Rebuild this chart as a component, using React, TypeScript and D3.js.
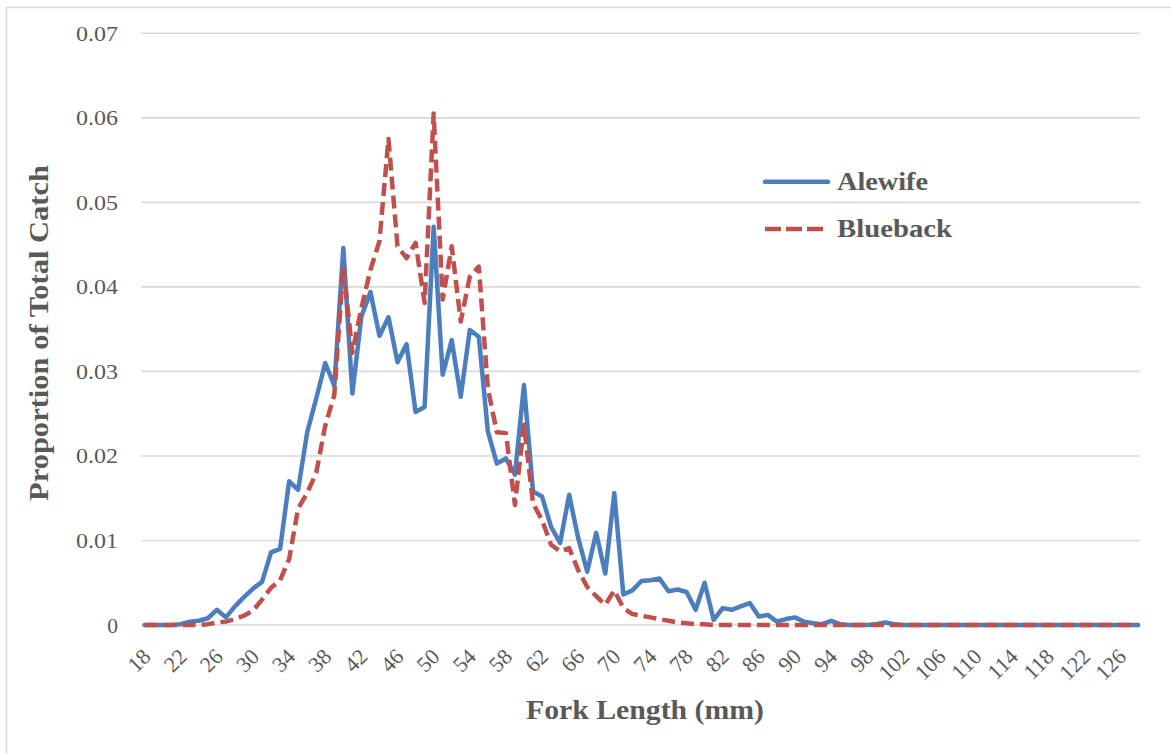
import React from "react";
import * as d3 from "d3";

const forkLengths: number[] = d3.range(18, 129);

const alewife: number[] = [
  0, 0, 0, 0, 0.0001, 0.0004, 0.0005, 0.0008, 0.0018, 0.0009,
  0.0022, 0.0033, 0.0043, 0.0051, 0.0086, 0.009, 0.017, 0.016, 0.0228, 0.0268,
  0.031, 0.0283, 0.0446, 0.0274, 0.0365, 0.0394, 0.0342, 0.0364, 0.0311, 0.0332,
  0.0252, 0.0258, 0.0471, 0.0296, 0.0337, 0.027, 0.0349, 0.0341, 0.0229, 0.0191,
  0.0197, 0.0178, 0.0284, 0.0158, 0.0152, 0.0116, 0.0097, 0.0154, 0.0103, 0.0063,
  0.0109, 0.0061, 0.0156, 0.0036, 0.0041, 0.0052, 0.0053, 0.0055, 0.004, 0.0042,
  0.0039, 0.0018, 0.005, 0.0006, 0.002, 0.0018, 0.0022, 0.0026, 0.001, 0.0012,
  0.0004, 0.0007, 0.0009, 0.0004, 0.0002, 0.0001, 0.0005, 0.0001, 0, 0,
  0, 0.0001, 0.0003, 0.0001, 0, 0, 0, 0, 0, 0,
  0, 0, 0, 0, 0, 0, 0, 0, 0, 0,
  0, 0, 0, 0, 0, 0, 0, 0, 0, 0,
  0,
];

const blueback: number[] = [
  0, 0, 0, 0, 0, 0, 0, 0.0001, 0.0003, 0.0004,
  0.0007, 0.0011, 0.0017, 0.003, 0.0044, 0.0053, 0.0078, 0.0138, 0.0156, 0.018,
  0.0236, 0.0272, 0.0424, 0.0322, 0.0375, 0.042, 0.0454, 0.0575, 0.0448, 0.0434,
  0.0452, 0.0381, 0.0605, 0.0385, 0.0448, 0.0359, 0.0412, 0.0424, 0.028, 0.0228,
  0.0227, 0.0142, 0.0237, 0.0144, 0.0124, 0.0095, 0.0087, 0.0091, 0.0065, 0.0045,
  0.0034, 0.0024, 0.0041, 0.002, 0.0013, 0.0011, 0.0009, 0.0007, 0.0005, 0.0003,
  0.0002, 0.0001, 0.0001, 0, 0, 0, 0, 0, 0, 0,
  0, 0, 0, 0, 0, 0, 0, 0, 0, 0,
  0, 0, 0, 0, 0, 0, 0, 0, 0, 0,
  0, 0, 0, 0, 0, 0, 0, 0, 0, 0,
  0, 0, 0, 0, 0, 0, 0, 0, 0, 0,
  0,
];

const xTickLabels: number[] = [
  18, 22, 26, 30, 34, 38, 42, 46, 50, 54, 58, 62, 66, 70, 74, 78, 82, 86, 90,
  94, 98, 102, 106, 110, 114, 118, 122, 126,
];

const yTicks: number[] = [0, 0.01, 0.02, 0.03, 0.04, 0.05, 0.06, 0.07];

const seriesNames = ["Alewife", "Blueback"];

const W = 1171;
const H = 754;
const BLUE = "#4A7EBF";
const RED = "#C0504D";
const GRID = "#D9D9D9";
const TEXT = "#595959";
const FONT = "'Liberation Serif', 'Times New Roman', serif";

export default function App() {
  const x = d3
    .scalePoint<number>()
    .domain(forkLengths)
    .range([144.6, 1138.2]);
  const y = d3.scaleLinear().domain([0, 0.07]).range([625, 33.3]);

  const line = d3
    .line<number>()
    .x((_, i) => x(forkLengths[i]) as number)
    .y((d) => y(d));

  const gridX0 = 141;
  const gridX1 = 1140;

  return (
    <div style={{ width: W, height: H }}>
      <style>{`body{margin:0;background:#fff}`}</style>
      <svg width={W} height={H} style={{ display: "block" }}>
        <rect x={0} y={0} width={W} height={H} fill="#fff" />
        <rect
          x={6.5}
          y={7.5}
          width={W + 20}
          height={H + 20}
          fill="none"
          stroke={GRID}
          strokeWidth={1.5}
        />
        {yTicks.map((t) => (
          <g key={t}>
            <line
              x1={gridX0}
              x2={gridX1}
              y1={y(t)}
              y2={y(t)}
              stroke={GRID}
              strokeWidth={1.6}
            />
            <text
              x={118}
              y={y(t)}
              dy="0.35em"
              textAnchor="end"
              fontFamily={FONT}
              fontSize={21.5}
              fill={TEXT}
              textLength={t === 0 ? undefined : 42}
              lengthAdjust="spacingAndGlyphs"
            >
              {t === 0 ? "0" : d3.format(".2f")(t)}
            </text>
          </g>
        ))}
        {xTickLabels.map((v) => (
          <text
            key={v}
            transform={`translate(${(x(v) as number) + 7.5},658) rotate(-45)`}
            textAnchor="end"
            fontFamily={FONT}
            fontSize={22}
            fill={TEXT}
          >
            {v}
          </text>
        ))}
        <path
          d={line(alewife) || ""}
          fill="none"
          stroke={BLUE}
          strokeWidth={4.5}
          strokeLinejoin="round"
          strokeLinecap="round"
        />
        <path
          d={line(blueback) || ""}
          fill="none"
          stroke={RED}
          strokeWidth={4.5}
          strokeDasharray="13 6"
          strokeLinejoin="round"
        />
        {/* legend */}
        <line
          x1={765}
          x2={828}
          y1={181.7}
          y2={181.7}
          stroke={BLUE}
          strokeWidth={4.5}
          strokeLinecap="round"
        />
        <line
          x1={765}
          x2={828}
          y1={229}
          y2={229}
          stroke={RED}
          strokeWidth={4.5}
          strokeDasharray="16 5"
        />
        <text
          x={837}
          y={190}
          fontFamily={FONT}
          fontWeight="bold"
          fontSize={26}
          fill={TEXT}
          textLength={91}
          lengthAdjust="spacingAndGlyphs"
        >
          {seriesNames[0]}
        </text>
        <text
          x={837}
          y={237}
          fontFamily={FONT}
          fontWeight="bold"
          fontSize={26}
          fill={TEXT}
          textLength={115}
          lengthAdjust="spacingAndGlyphs"
        >
          {seriesNames[1]}
        </text>
        <text
          x={645}
          y={719}
          textAnchor="middle"
          fontFamily={FONT}
          fontWeight="bold"
          fontSize={27.5}
          fill={TEXT}
          textLength={238}
          lengthAdjust="spacingAndGlyphs"
        >
          Fork Length (mm)
        </text>
        <text
          transform="translate(48,333) rotate(-90)"
          textAnchor="middle"
          fontFamily={FONT}
          fontWeight="bold"
          fontSize={28}
          fill={TEXT}
          textLength={336}
          lengthAdjust="spacingAndGlyphs"
        >
          Proportion of Total Catch
        </text>
      </svg>
    </div>
  );
}
